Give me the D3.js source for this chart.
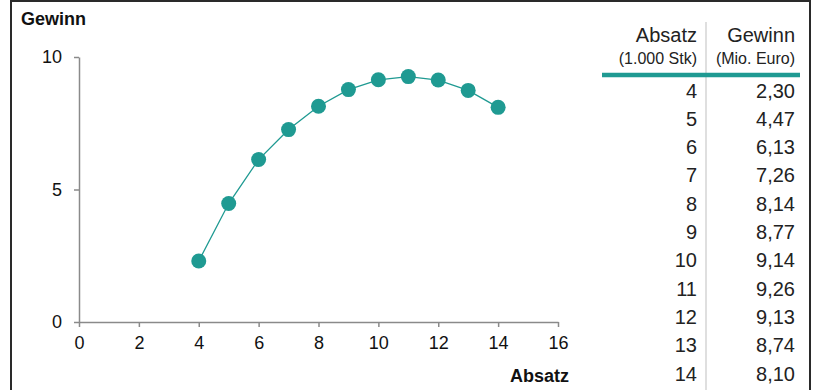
<!DOCTYPE html>
<html lang="de">
<head>
    <meta charset="UTF-8">
    <title>Gewinn / Absatz</title>
    <script src="https://d3js.org/d3.v7.min.js"></script>
    <style>
        body { margin: 0; background: #fff; }
        svg { display: block; font-family: "Liberation Sans", Arial, sans-serif; }
    </style>
</head>
<body>
    <svg id="chart" width="820" height="390"></svg>
    <script>
        // data
        const absatz = [4, 5, 6, 7, 8, 9, 10, 11, 12, 13, 14];
        const gewinn = [2.30, 4.47, 6.13, 7.26, 8.14, 8.77, 9.14, 9.26, 9.13, 8.74, 8.10];
        const xTicks = [0, 2, 4, 6, 8, 10, 12, 14, 16];
        const yTicks = [0, 5, 10];
        const headers = ["Absatz", "Gewinn"];
        const subHeaders = ["(1.000 Stk)", "(Mio. Euro)"];

        const teal = "#1f9a92";
        const axisGrey = "#8a8a8a";

        const svg = d3.select("#chart");

        // frame
        svg.append("rect")
            .attr("x", 11).attr("y", 1)
            .attr("width", 799).attr("height", 400)
            .attr("fill", "none")
            .attr("stroke", "#2a2a2a")
            .attr("stroke-width", 2);

        const x = d3.scaleLinear().domain([0, 16]).range([79, 558]);
        const y = d3.scaleLinear().domain([0, 10]).range([322, 57]);

        // x axis
        const gx = svg.append("g")
            .attr("transform", `translate(0, ${y(0)})`)
            .call(d3.axisBottom(x).tickValues(xTicks).tickSize(5).tickSizeOuter(0).tickPadding(9));
        // y axis
        const gy = svg.append("g")
            .attr("transform", `translate(${x(0)}, 0)`)
            .call(d3.axisLeft(y).tickValues(yTicks).tickSize(5).tickSizeOuter(0).tickPadding(12));

        [gx, gy].forEach(g => {
            g.selectAll(".domain, line").attr("stroke", axisGrey).attr("stroke-width", 1.5);
            g.selectAll("text").attr("font-size", "18px").attr("fill", "#111")
                .attr("font-family", "Liberation Sans, Arial, sans-serif");
        });

        // axis titles
        svg.append("text")
            .attr("x", 21).attr("y", 25)
            .attr("font-size", "18px").attr("font-weight", "bold").attr("fill", "#111")
            .text("Gewinn");
        svg.append("text")
            .attr("x", 569).attr("y", 382)
            .attr("text-anchor", "end")
            .attr("font-size", "18px").attr("font-weight", "bold").attr("fill", "#111")
            .text("Absatz");

        // line and points
        const pts = absatz.map((a, i) => ({ a: a, g: gewinn[i] }));
        const line = d3.line().x(d => x(d.a)).y(d => y(d.g));
        svg.append("path")
            .datum(pts)
            .attr("d", line)
            .attr("fill", "none")
            .attr("stroke", teal)
            .attr("stroke-width", 1.3);
        svg.selectAll(".pt")
            .data(pts)
            .enter().append("circle")
            .attr("class", "pt")
            .attr("cx", d => x(d.a))
            .attr("cy", d => y(d.g))
            .attr("r", 7.5)
            .attr("fill", teal);

        // table
        const colRight = [697, 795];
        const rowY = d3.scaleLinear().domain([4, 14]).range([97.5, 380.5]);
        const fmt = v => v.toFixed(2).replace(".", ",");

        svg.append("line")
            .attr("x1", 706).attr("x2", 706)
            .attr("y1", 22).attr("y2", 390)
            .attr("stroke", "#d4d4d4").attr("stroke-width", 1.5);

        svg.selectAll(".hdr")
            .data(headers)
            .enter().append("text")
            .attr("class", "hdr")
            .attr("x", (d, i) => colRight[i]).attr("y", 42)
            .attr("text-anchor", "end")
            .attr("font-size", "20px").attr("fill", "#222")
            .text(d => d);
        svg.selectAll(".sub")
            .data(subHeaders)
            .enter().append("text")
            .attr("class", "sub")
            .attr("x", (d, i) => colRight[i]).attr("y", 64)
            .attr("text-anchor", "end")
            .attr("font-size", "16px").attr("fill", "#222")
            .text(d => d);

        svg.append("line")
            .attr("x1", 602).attr("x2", 800)
            .attr("y1", 75).attr("y2", 75)
            .attr("stroke", teal).attr("stroke-width", 4.5);

        svg.selectAll(".ca")
            .data(absatz)
            .enter().append("text")
            .attr("class", "ca")
            .attr("x", colRight[0]).attr("y", d => rowY(d))
            .attr("text-anchor", "end")
            .attr("font-size", "20px").attr("fill", "#222")
            .text(d => d);
        svg.selectAll(".cg")
            .data(pts)
            .enter().append("text")
            .attr("class", "cg")
            .attr("x", colRight[1]).attr("y", d => rowY(d.a))
            .attr("text-anchor", "end")
            .attr("font-size", "20px").attr("fill", "#222")
            .text(d => fmt(d.g));
    </script>
</body>
</html>
